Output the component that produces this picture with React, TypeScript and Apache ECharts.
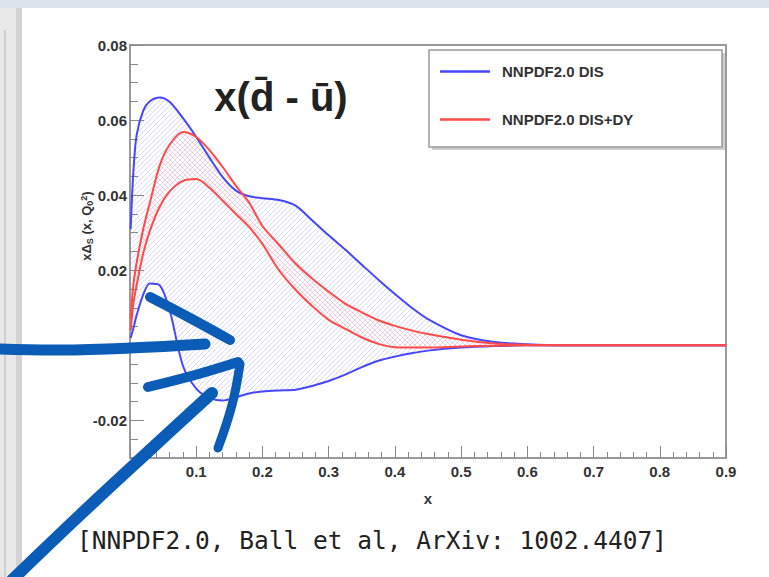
import React, { useEffect, useRef } from "react";
import * as echarts from "echarts";

// x grid shared by all curves
const X_VALUES = [0.001, 0.005, 0.01, 0.02, 0.03, 0.045, 0.06, 0.08, 0.1, 0.12, 0.14, 0.16, 0.18, 0.2, 0.225, 0.25, 0.275, 0.3, 0.325, 0.35, 0.375, 0.4, 0.425, 0.45, 0.5, 0.55, 0.6, 0.65, 0.7, 0.8, 0.9];

// NNPDF2.0 DIS band (blue)
const DIS_UPPER = [0.031, 0.046, 0.056, 0.0625, 0.065, 0.066, 0.0648, 0.0605, 0.0555, 0.05, 0.0448, 0.0412, 0.0397, 0.0392, 0.0387, 0.0372, 0.0333, 0.0293, 0.0255, 0.0215, 0.0175, 0.0137, 0.0101, 0.007, 0.0027, 0.0009, 0.0003, 0, 0, 0, 0];
const DIS_LOWER = [0.002, 0.0045, 0.008, 0.0135, 0.0165, 0.016, 0.0093, -0.0055, -0.0115, -0.014, -0.0147, -0.0138, -0.0128, -0.0123, -0.012, -0.0118, -0.0108, -0.0095, -0.0078, -0.0058, -0.0041, -0.003, -0.0021, -0.0014, -0.0006, -0.0002, 0, 0, 0, 0, 0];

// NNPDF2.0 DIS+DY band (red)
const DY_UPPER = [0.007, 0.016, 0.022, 0.031, 0.038, 0.048, 0.0535, 0.0568, 0.0555, 0.052, 0.0475, 0.0425, 0.038, 0.0318, 0.0268, 0.0218, 0.0178, 0.0143, 0.0111, 0.0088, 0.0067, 0.0052, 0.004, 0.003, 0.0015, 0.0005, 0.0001, 0, 0, 0, 0];
const DY_LOWER = [0.004, 0.011, 0.016, 0.0245, 0.0305, 0.037, 0.041, 0.0438, 0.0443, 0.042, 0.0385, 0.035, 0.0315, 0.027, 0.02, 0.0148, 0.0105, 0.0068, 0.0044, 0.0021, 0.0004, -0.0005, -0.0006, -0.0006, -0.0003, -0.0001, 0, 0, 0, 0, 0];

const X_TICK_LABELS = [0.1, 0.2, 0.3, 0.4, 0.5, 0.6, 0.7, 0.8, 0.9];
const Y_TICK_LABELS = [-0.02, 0.02, 0.04, 0.06, 0.08];
const Y_MAJOR_TICKS = [-0.02, 0, 0.02, 0.04, 0.06, 0.08];

const LEGEND_NAMES = ["NNPDF2.0 DIS", "NNPDF2.0 DIS+DY"];
const TITLE = "x(d\u0304 - \u016b)";
const CITATION = "[NNPDF2.0, Ball et al, ArXiv: 1002.4407]";

const BLUE = "#4646ff";
const RED = "#ff4a4a";
const ARROW = "#0a5cb6";
const FONT = "Liberation Sans, Arial, sans-serif";

function makeHatch(color: string, flip: boolean) {
  const s = 5;
  const c = document.createElement("canvas");
  c.width = s;
  c.height = s;
  const g = c.getContext("2d")!;
  g.strokeStyle = color;
  g.lineWidth = 1;
  g.beginPath();
  if (!flip) {
    g.moveTo(-1, s + 1);
    g.lineTo(s + 1, -1);
    g.moveTo(-1, 1);
    g.lineTo(1, -1);
    g.moveTo(s - 1, s + 1);
    g.lineTo(s + 1, s - 1);
  } else {
    g.moveTo(-1, -1);
    g.lineTo(s + 1, s + 1);
    g.moveTo(s - 1, -1);
    g.lineTo(s + 1, 1);
    g.moveTo(-1, s - 1);
    g.lineTo(1, s + 1);
  }
  g.stroke();
  return c;
}

export default function App() {
  const ref = useRef<HTMLDivElement>(null);

  useEffect(() => {
    if (!ref.current) return;
    const chart = echarts.init(ref.current, undefined, { renderer: "svg" });

    const pairs = (ys: number[]) => X_VALUES.map((x, i) => [x, ys[i]]);

    const blueHatch = makeHatch("rgba(80,80,255,0.22)", false);
    const redHatch = makeHatch("rgba(255,70,70,0.26)", true);

    const SMOOTH = 0.3;

    const lineCommon = {
      type: "line",
      showSymbol: false,
      smooth: SMOOTH,
      silent: true,
    };

    const band = (name: string, up: number[], lo: number[], img: HTMLCanvasElement) => ({
      type: "custom",
      name,
      silent: true,
      data: pairs(up),
      encode: { x: 0, y: 1 },
      renderItem: (params: any, api: any) => {
        if (params.dataIndex !== 0) return null;
        const pts: number[][] = [];
        for (let i = 0; i < X_VALUES.length; i++) pts.push(api.coord([X_VALUES[i], up[i]]));
        for (let i = X_VALUES.length - 1; i >= 0; i--) pts.push(api.coord([X_VALUES[i], lo[i]]));
        return {
          type: "polygon",
          shape: { points: pts, smooth: SMOOTH },
          style: { fill: { image: img, repeat: "repeat" }, stroke: null },
        };
      },
    });

    const arrowStroke = (points: number[][], w: number) => ({
      type: "polyline",
      z: 100,
      shape: { points, smooth: 0.4 },
      style: { stroke: ARROW, lineWidth: w, lineCap: "round", lineJoin: "round", fill: null },
    });

    const tickLabel = {
      fontSize: 15,
      fontWeight: "bold",
      color: "#333",
      fontFamily: FONT,
    };

    const option: any = {
      animation: false,
      backgroundColor: "#ffffff",
      grid: {
        left: 130,
        right: 43,
        top: 45,
        bottom: 119,
        show: true,
        borderColor: "#9a9a9a",
        borderWidth: 2,
        backgroundColor: "transparent",
      },
      legend: {
        data: LEGEND_NAMES,
        orient: "vertical",
        left: 440,
        top: 64,
        padding: 0,
        itemGap: 33,
        itemWidth: 50,
        itemHeight: 2.5,
        icon: "rect",
        selectedMode: false,
        textStyle: { ...tickLabel, padding: [0, 0, 0, 7] },
      },
      xAxis: {
        type: "value",
        min: 0,
        max: 0.9,
        interval: 0.1,
        axisLine: { show: false, onZero: false },
        splitLine: { show: false },
        axisTick: { inside: true, length: 12, lineStyle: { color: "#888", width: 1 } },
        minorTick: { show: true, splitNumber: 5, length: 6, lineStyle: { color: "#888", width: 1 } },
        axisLabel: {
          ...tickLabel,
          customValues: X_TICK_LABELS,
          formatter: (v: number) => v.toFixed(1),
          margin: 6,
        },
        name: "x",
        nameLocation: "middle",
        nameGap: 33,
        nameTextStyle: tickLabel,
      },
      yAxis: [
        {
          type: "value",
          min: -0.03,
          max: 0.08,
          interval: 0.005,
          axisLine: { show: false, onZero: false },
          splitLine: { show: false },
          axisTick: { inside: true, length: 8, lineStyle: { color: "#888", width: 1 } },
          axisLabel: {
            ...tickLabel,
            customValues: Y_TICK_LABELS,
            formatter: (v: number) => v.toFixed(2),
            margin: 3,
          },
        },
        {
          type: "value",
          min: -0.03,
          max: 0.08,
          interval: 0.005,
          position: "left",
          axisLine: { show: false, onZero: false },
          splitLine: { show: false },
          axisLabel: { show: false },
          axisTick: {
            customValues: Y_MAJOR_TICKS,
            inside: true,
            length: 14,
            lineStyle: { color: "#888", width: 1 },
          },
        },
      ],
      series: [
        band("DIS band", DIS_UPPER, DIS_LOWER, blueHatch),
        band("DIS+DY band", DY_UPPER, DY_LOWER, redHatch),
        {
          ...lineCommon,
          name: "NNPDF2.0 DIS",
          data: pairs(DIS_LOWER),
          color: BLUE,
          itemStyle: { color: BLUE },
          lineStyle: { color: BLUE, width: 2 },
        },
        {
          ...lineCommon,
          name: "NNPDF2.0 DIS",
          data: pairs(DIS_UPPER),
          color: BLUE,
          itemStyle: { color: BLUE },
          lineStyle: { color: BLUE, width: 2 },
        },
        {
          ...lineCommon,
          name: "NNPDF2.0 DIS+DY",
          data: pairs(DY_LOWER),
          color: RED,
          itemStyle: { color: RED },
          lineStyle: { color: RED, width: 2 },
        },
        {
          ...lineCommon,
          name: "NNPDF2.0 DIS+DY",
          data: pairs(DY_UPPER),
          color: RED,
          itemStyle: { color: RED },
          lineStyle: { color: RED, width: 2 },
        },
      ],
      graphic: [
        // window chrome
        { type: "rect", z: 0, shape: { x: 0, y: 0, width: 769, height: 8 }, style: { fill: "#dbe3ec" } },
        { type: "rect", z: 0, shape: { x: 0, y: 8, width: 22, height: 569 }, style: { fill: "#e8e8e8" } },
        { type: "rect", z: 0, shape: { x: 16, y: 8, width: 6, height: 569 }, style: { fill: "#d2d2d2" } },
        { type: "line", z: 0, shape: { x1: 5, y1: 30, x2: 5, y2: 577 }, style: { stroke: "#b8b8b8", lineWidth: 1 } },
        // legend box
        { type: "rect", z: 0, shape: { x: 432, y: 53, width: 293, height: 97 }, style: { fill: "#cfcfcf" } },
        { type: "rect", z: 1, shape: { x: 429, y: 50, width: 293, height: 97 }, style: { fill: "#fff", stroke: "#999", lineWidth: 1.5 } },
        // title
        {
          type: "text",
          z: 5,
          x: 281,
          y: 97,
          style: {
            text: TITLE,
            font: "bold 40px " + FONT,
            fill: "#222",
            align: "center",
            verticalAlign: "middle",
          },
        },
        // y axis title
        {
          type: "text",
          z: 5,
          x: 86,
          y: 226,
          rotation: Math.PI / 2,
          style: {
            text: "{a|x\u0394}{s|S}{a| (x, Q}{s|0}{p|2}{a|)}",
            align: "center",
            verticalAlign: "middle",
            fill: "#333",
            rich: {
              a: { fontSize: 13, fontWeight: "bold", fontFamily: FONT, fill: "#333", verticalAlign: "bottom" },
              s: { fontSize: 9, fontWeight: "bold", fontFamily: FONT, fill: "#333", verticalAlign: "bottom", padding: [0, 0, -2, 0] },
              p: { fontSize: 9, fontWeight: "bold", fontFamily: FONT, fill: "#333", verticalAlign: "top" },
            },
          },
        },
        // citation
        {
          type: "text",
          z: 5,
          x: 77,
          y: 540,
          style: {
            text: CITATION,
            font: "24.5px 'DejaVu Sans Mono', 'Liberation Mono', monospace",
            fill: "#222",
            align: "left",
            verticalAlign: "middle",
          },
        },
        // hand-drawn arrows
        arrowStroke([[0, 349], [60, 350], [130, 348], [205, 344]], 11),
        arrowStroke([[150, 297], [190, 318], [230, 340]], 10),
        arrowStroke([[148, 387], [195, 375], [238, 362]], 10),
        arrowStroke([[240, 364], [232, 405], [218, 448]], 9),
        arrowStroke([[12, 580], [80, 515], [150, 450], [212, 393]], 12),
      ],
    };

    chart.setOption(option);
    return () => chart.dispose();
  }, []);

  return (
    <div
      ref={ref}
      style={{ position: "fixed", left: 0, top: 0, width: 769, height: 577 }}
    />
  );
}
